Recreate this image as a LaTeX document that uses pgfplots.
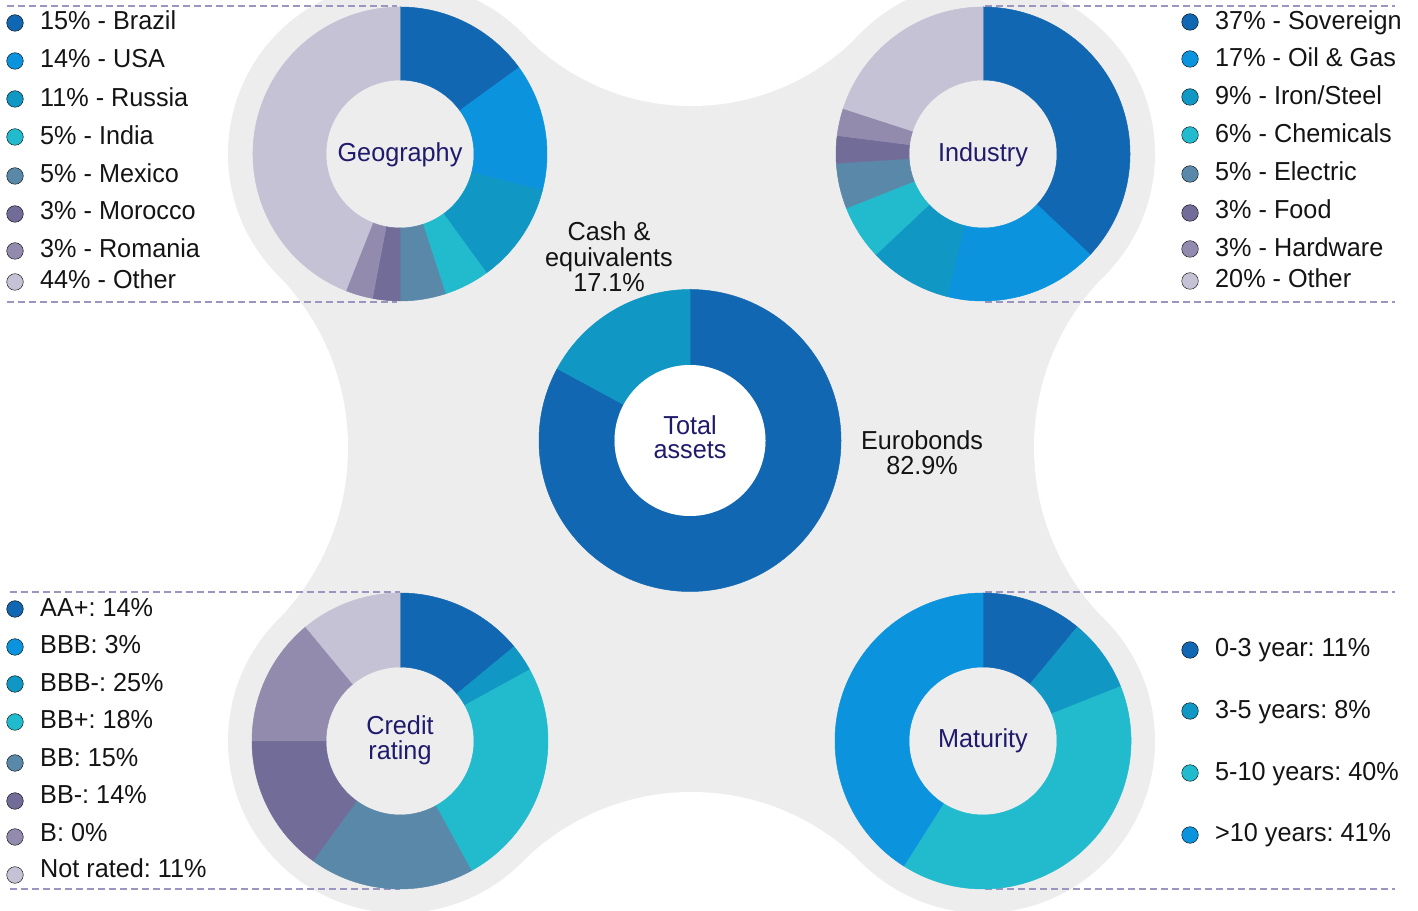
\documentclass[border=0pt]{standalone}
\usepackage{pgfplots}
\pgfplotsset{compat=1.18}
\usepackage{pgfplotstable}
\usepackage{fontspec}
\setmainfont[FakeStretch=0.97]{Liberation Sans}
\frenchspacing

\definecolor{c1}{HTML}{1167B1}
\definecolor{c2}{HTML}{0C93DD}
\definecolor{c3}{HTML}{1197C4}
\definecolor{c4}{HTML}{22BBCE}
\definecolor{c5}{HTML}{5A88A8}
\definecolor{c6}{HTML}{716C98}
\definecolor{c7}{HTML}{938BAE}
\definecolor{c8}{HTML}{C5C2D5}
\definecolor{bg}{HTML}{EDEDED}
\definecolor{dashc}{HTML}{9B95BF}
\definecolor{navy}{HTML}{1F1A6B}
\definecolor{txt}{HTML}{141414}

\tikzset{
  lg/.style={anchor=base west, font=\fontsize{26}{30}\selectfont, text=txt, inner sep=0pt},
  ct/.style={anchor=base, font=\fontsize{26}{30}\selectfont, text=navy, inner sep=0pt},
  bt/.style={anchor=base, font=\fontsize{26}{30}\selectfont, text=txt, inner sep=0pt}
}

% Geography
\pgfplotstableread{
value col
15 c1
14 c2
11 c3
5 c4
5 c5
3 c6
3 c7
44 c8
}\geo
% Industry
\pgfplotstableread{
value col
37 c1
17 c2
9 c3
6 c4
5 c5
3 c6
3 c7
20 c8
}\ind
% Credit rating (AA+, BBB, BBB-, BB+, BB, BB-, B, Not rated)
\pgfplotstableread{
value col
14 c1
3 c3
25 c4
18 c5
15 c6
14 c7
0 c7
11 c8
}\cred
% Maturity
\pgfplotstableread{
value col
11 c1
8 c3
40 c4
41 c2
}\mat
% Total assets
\pgfplotstableread{
value col
82.9 c1
17.1 c3
}\tot

\newcommand\donut[5]{%
  \pgfplotstablegetrowsof{#1}%
  \pgfmathtruncatemacro\lastrow{\pgfplotsretval-1}%
  \gdef\cum{0}%
  \foreach \i in {0,...,\lastrow}{%
    \pgfplotstablegetelem{\i}{value}\of{#1}\let\val\pgfplotsretval
    \pgfplotstablegetelem{\i}{col}\of{#1}\let\col\pgfplotsretval
    \ifdim\val pt>0pt
      \pgfmathsetmacro\aA{90-3.6*\cum}%
      \pgfmathsetmacro\aB{90-3.6*(\cum+\val)}%
      \path[fill=\col, draw=\col, line width=0.5pt, line join=round]
        ([shift={(axis cs:#2,#3)}]\aA:#4pt) arc[start angle=\aA, end angle=\aB, radius=#4pt]
        -- ([shift={(axis cs:#2,#3)}]\aB:#5pt) arc[start angle=\aB, end angle=\aA, radius=#5pt] -- cycle;
    \fi
    \pgfmathsetmacro\newcum{\cum+\val}\xdef\cum{\newcum}%
  }%
}

\begin{document}
\begin{tikzpicture}
\begin{axis}[at={(0,0)}, anchor=south west, scale only axis,
  width=1418pt, height=910pt, xmin=0, xmax=1418, ymin=0, ymax=910,
  hide axis, enlargelimits=false, clip=true]
\pgfplotsextra{
  % background blob
  \fill[bg] (axis cs:400,756) -- (axis cs:523.9,875.3) -- (axis cs:859.1,875.3) -- (axis cs:983,756)
    -- (axis cs:1105,634.8) -- (axis cs:1105,290.2) -- (axis cs:983,169) -- (axis cs:861.2,47.6)
    -- (axis cs:521.8,47.6) -- (axis cs:400,169) -- (axis cs:277.3,289.5) -- (axis cs:277.3,635.5) -- cycle;
  \fill[white] (axis cs:691.5,1036.6) circle[radius=232.6pt];
  \fill[white] (axis cs:691.5,-121.6) circle[radius=239.6pt];
  \fill[white] (axis cs:101.1,462.5) circle[radius=246.9pt];
  \fill[white] (axis cs:1278.5,462.5) circle[radius=244.5pt];
  \fill[bg] (axis cs:400,756) circle[radius=172pt];
  \fill[bg] (axis cs:983,756) circle[radius=172pt];
  \fill[bg] (axis cs:400,169) circle[radius=172pt];
  \fill[bg] (axis cs:983,169) circle[radius=172pt];
  % dashed separators
  \begin{scope}[dashc, line width=1.8pt, dash pattern=on 7pt off 4pt]
    \draw (axis cs:7,904) -- (axis cs:397,904);
    \draw (axis cs:7,608) -- (axis cs:397,608);
    \draw (axis cs:10,318) -- (axis cs:400,318);
    \draw (axis cs:10,21) -- (axis cs:400,21);
    \draw (axis cs:985,904) -- (axis cs:1395,904);
    \draw (axis cs:985,608) -- (axis cs:1395,608);
    \draw (axis cs:985,318) -- (axis cs:1395,318);
    \draw (axis cs:985,21) -- (axis cs:1395,21);
  \end{scope}
  % donuts
  \donut{\geo}{400}{756}{147}{74}
  \donut{\ind}{983}{756}{147}{74}
  \donut{\cred}{400}{169}{148}{74}
  \donut{\mat}{983}{169}{148}{74}
  \donut{\tot}{690}{469.5}{151}{75.5}
  \fill[white] (axis cs:690,469.5) circle[radius=75.5pt];
}
% legend markers
\addplot[only marks, mark=*, mark size=8.3, mark options={draw=none, fill=c1}] coordinates {(15,887) (1190,888) (15,301) (1190,260)};
\addplot[only marks, mark=*, mark size=8.3, mark options={draw=none, fill=c2}] coordinates {(15,849) (1190,851) (15,263) (1190,75)};
\addplot[only marks, mark=*, mark size=8.3, mark options={draw=none, fill=c3}] coordinates {(15,811) (1190,813) (15,226) (1190,199)};
\addplot[only marks, mark=*, mark size=8.3, mark options={draw=none, fill=c4}] coordinates {(15,773) (1190,775) (15,188) (1190,137)};
\addplot[only marks, mark=*, mark size=8.3, mark options={draw=none, fill=c5}] coordinates {(15,734) (1190,736) (15,147)};
\addplot[only marks, mark=*, mark size=8.3, mark options={draw=none, fill=c6}] coordinates {(15,696) (1190,697) (15,109)};
\addplot[only marks, mark=*, mark size=8.3, mark options={draw=none, fill=c7}] coordinates {(15,659) (1190,661) (15,73)};
\addplot[only marks, mark=*, mark size=8.3, mark options={draw=none, fill=c8}] coordinates {(15,628) (1190,629) (15,35)};

% Geography legend
\node[lg] at (axis cs:40,880.7) {15\% - Brazil};
\node[lg] at (axis cs:40,842.7) {14\% - USA};
\node[lg] at (axis cs:40,803.7) {11\% - Russia};
\node[lg] at (axis cs:40,765.7) {5\% - India};
\node[lg] at (axis cs:40,727.7) {5\% - Mexico};
\node[lg] at (axis cs:40,690.7) {3\% - Morocco};
\node[lg] at (axis cs:40,652.7) {3\% - Romania};
\node[lg] at (axis cs:40,621.7) {44\% - Other};
% Industry legend
\node[lg] at (axis cs:1215,880.7) {37\% - Sovereign};
\node[lg] at (axis cs:1215,843.7) {17\% - Oil \& Gas};
\node[lg] at (axis cs:1215,805.7) {9\% - Iron/Steel};
\node[lg] at (axis cs:1215,767.7) {6\% - Chemicals};
\node[lg] at (axis cs:1215,729.7) {5\% - Electric};
\node[lg] at (axis cs:1215,691.7) {3\% - Food};
\node[lg] at (axis cs:1215,653.7) {3\% - Hardware};
\node[lg] at (axis cs:1215,622.7) {20\% - Other};
% Credit legend
\node[lg] at (axis cs:40,293.7) {AA+: 14\%};
\node[lg] at (axis cs:40,256.7) {BBB: 3\%};
\node[lg] at (axis cs:40,218.7) {BBB-: 25\%};
\node[lg] at (axis cs:40,181.7) {BB+: 18\%};
\node[lg] at (axis cs:40,143.7) {BB: 15\%};
\node[lg] at (axis cs:40,106.7) {BB-: 14\%};
\node[lg] at (axis cs:40,68.7) {B: 0\%};
\node[lg] at (axis cs:40,32.7) {Not rated: 11\%};
% Maturity legend
\node[lg] at (axis cs:1215,253.7) {0-3 year: 11\%};
\node[lg] at (axis cs:1215,191.7) {3-5 years: 8\%};
\node[lg] at (axis cs:1215,129.7) {5-10 years: 40\%};
\node[lg] at (axis cs:1215,68.7) {>10 years: 41\%};
% centre labels
\node[ct] at (axis cs:400,748.5) {Geography};
\node[ct] at (axis cs:983,748.5) {Industry};
\node[ct] at (axis cs:400,175) {Credit};
\node[ct] at (axis cs:400,150) {rating};
\node[ct] at (axis cs:983,162) {Maturity};
\node[ct] at (axis cs:690,475) {Total};
\node[ct] at (axis cs:690,451) {assets};
% total assets labels
\node[bt] at (axis cs:609,669.3) {Cash \&};
\node[bt] at (axis cs:609,643.3) {equivalents};
\node[bt] at (axis cs:609,618.3) {17.1\%};
\node[bt] at (axis cs:922,460) {Eurobonds};
\node[bt] at (axis cs:922,435) {82.9\%};
\end{axis}
\pgfresetboundingbox
\useasboundingbox (0,0) rectangle (1418pt,910pt);
\end{tikzpicture}
\end{document}
